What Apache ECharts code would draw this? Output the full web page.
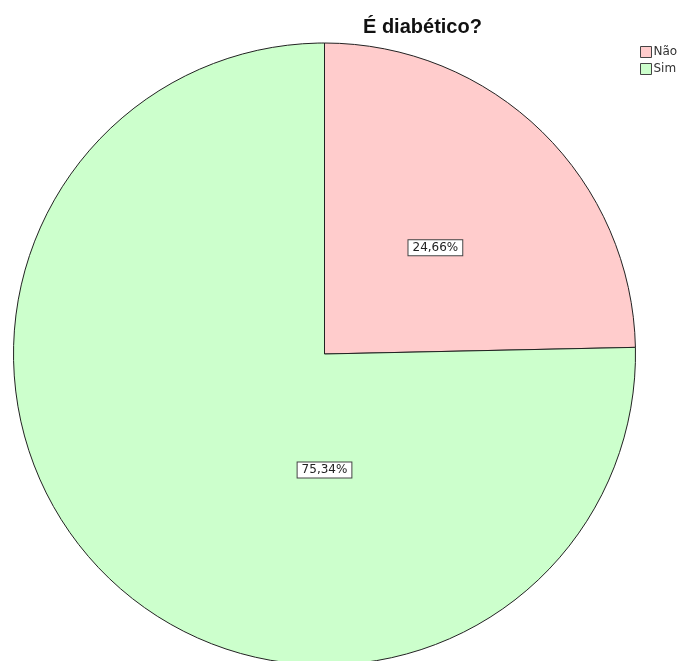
<!DOCTYPE html>
<html>
<head>
<meta charset="utf-8">
<title>É diabético?</title>
<script src="https://cdn.jsdelivr.net/npm/echarts@6/dist/echarts.min.js"></script>
<style>
  html, body { margin: 0; padding: 0; background: #ffffff; }
  #chart { width: 687px; height: 661px; }
</style>
</head>
<body>
<div id="chart"></div>
<script>
// Categories and shares (percent)
const categories = ['Não', 'Sim'];
const shares = [24.66, 75.34];
const sliceColors = ['#ffcccc', '#ccffcc'];

const CX = 324.5, CY = 354, R = 311;

const chart = echarts.init(document.getElementById('chart'), null, { renderer: 'canvas' });

const fmtPct = v => v.toFixed(2).replace('.', ',') + '%';

chart.setOption({
  animation: false,
  backgroundColor: '#ffffff',
  title: {
    text: 'É diabético?',
    left: 358,
    top: 12,
    textStyle: {
      fontFamily: 'Liberation Sans, Arial, sans-serif',
      fontWeight: 'bold',
      fontSize: 20,
      color: '#111111'
    }
  },
  legend: {
    orient: 'vertical',
    left: 635,
    top: 41,
    itemWidth: 11,
    itemHeight: 11,
    itemGap: 5,
    icon: 'rect',
    selectedMode: false,
    data: categories,
    textStyle: {
      fontFamily: 'DejaVu Sans, sans-serif',
      fontSize: 12,
      color: '#333333',
      padding: [0, 0, 0, -3]
    },
    itemStyle: { borderColor: '#444444', borderWidth: 1 }
  },
  series: [{
    type: 'pie',
    center: [CX, CY],
    radius: [0, R],
    startAngle: 90,
    clockwise: true,
    silent: true,
    data: categories.map((name, i) => ({
      name: name,
      value: shares[i],
      itemStyle: { color: sliceColors[i] }
    })),
    itemStyle: { borderColor: '#222222', borderWidth: 1 },
    label: {
      show: true,
      position: 'inside',
      formatter: p => fmtPct(p.value),
      fontFamily: 'DejaVu Sans, sans-serif',
      fontSize: 12,
      color: '#222222',
      backgroundColor: '#ffffff',
      borderColor: '#444444',
      borderWidth: 1,
      padding: [2, 4, 1, 4]
    },
    labelLine: { show: false },
    labelLayout: function (params) {
      // The large slice's label sits straight below the centre
      if (params.dataIndex === 1) {
        return { x: CX, y: CY + 0.373 * R, align: 'center', verticalAlign: 'middle' };
      }
      return { dy: 7 };
    }
  }]
});
</script>
</body>
</html>
